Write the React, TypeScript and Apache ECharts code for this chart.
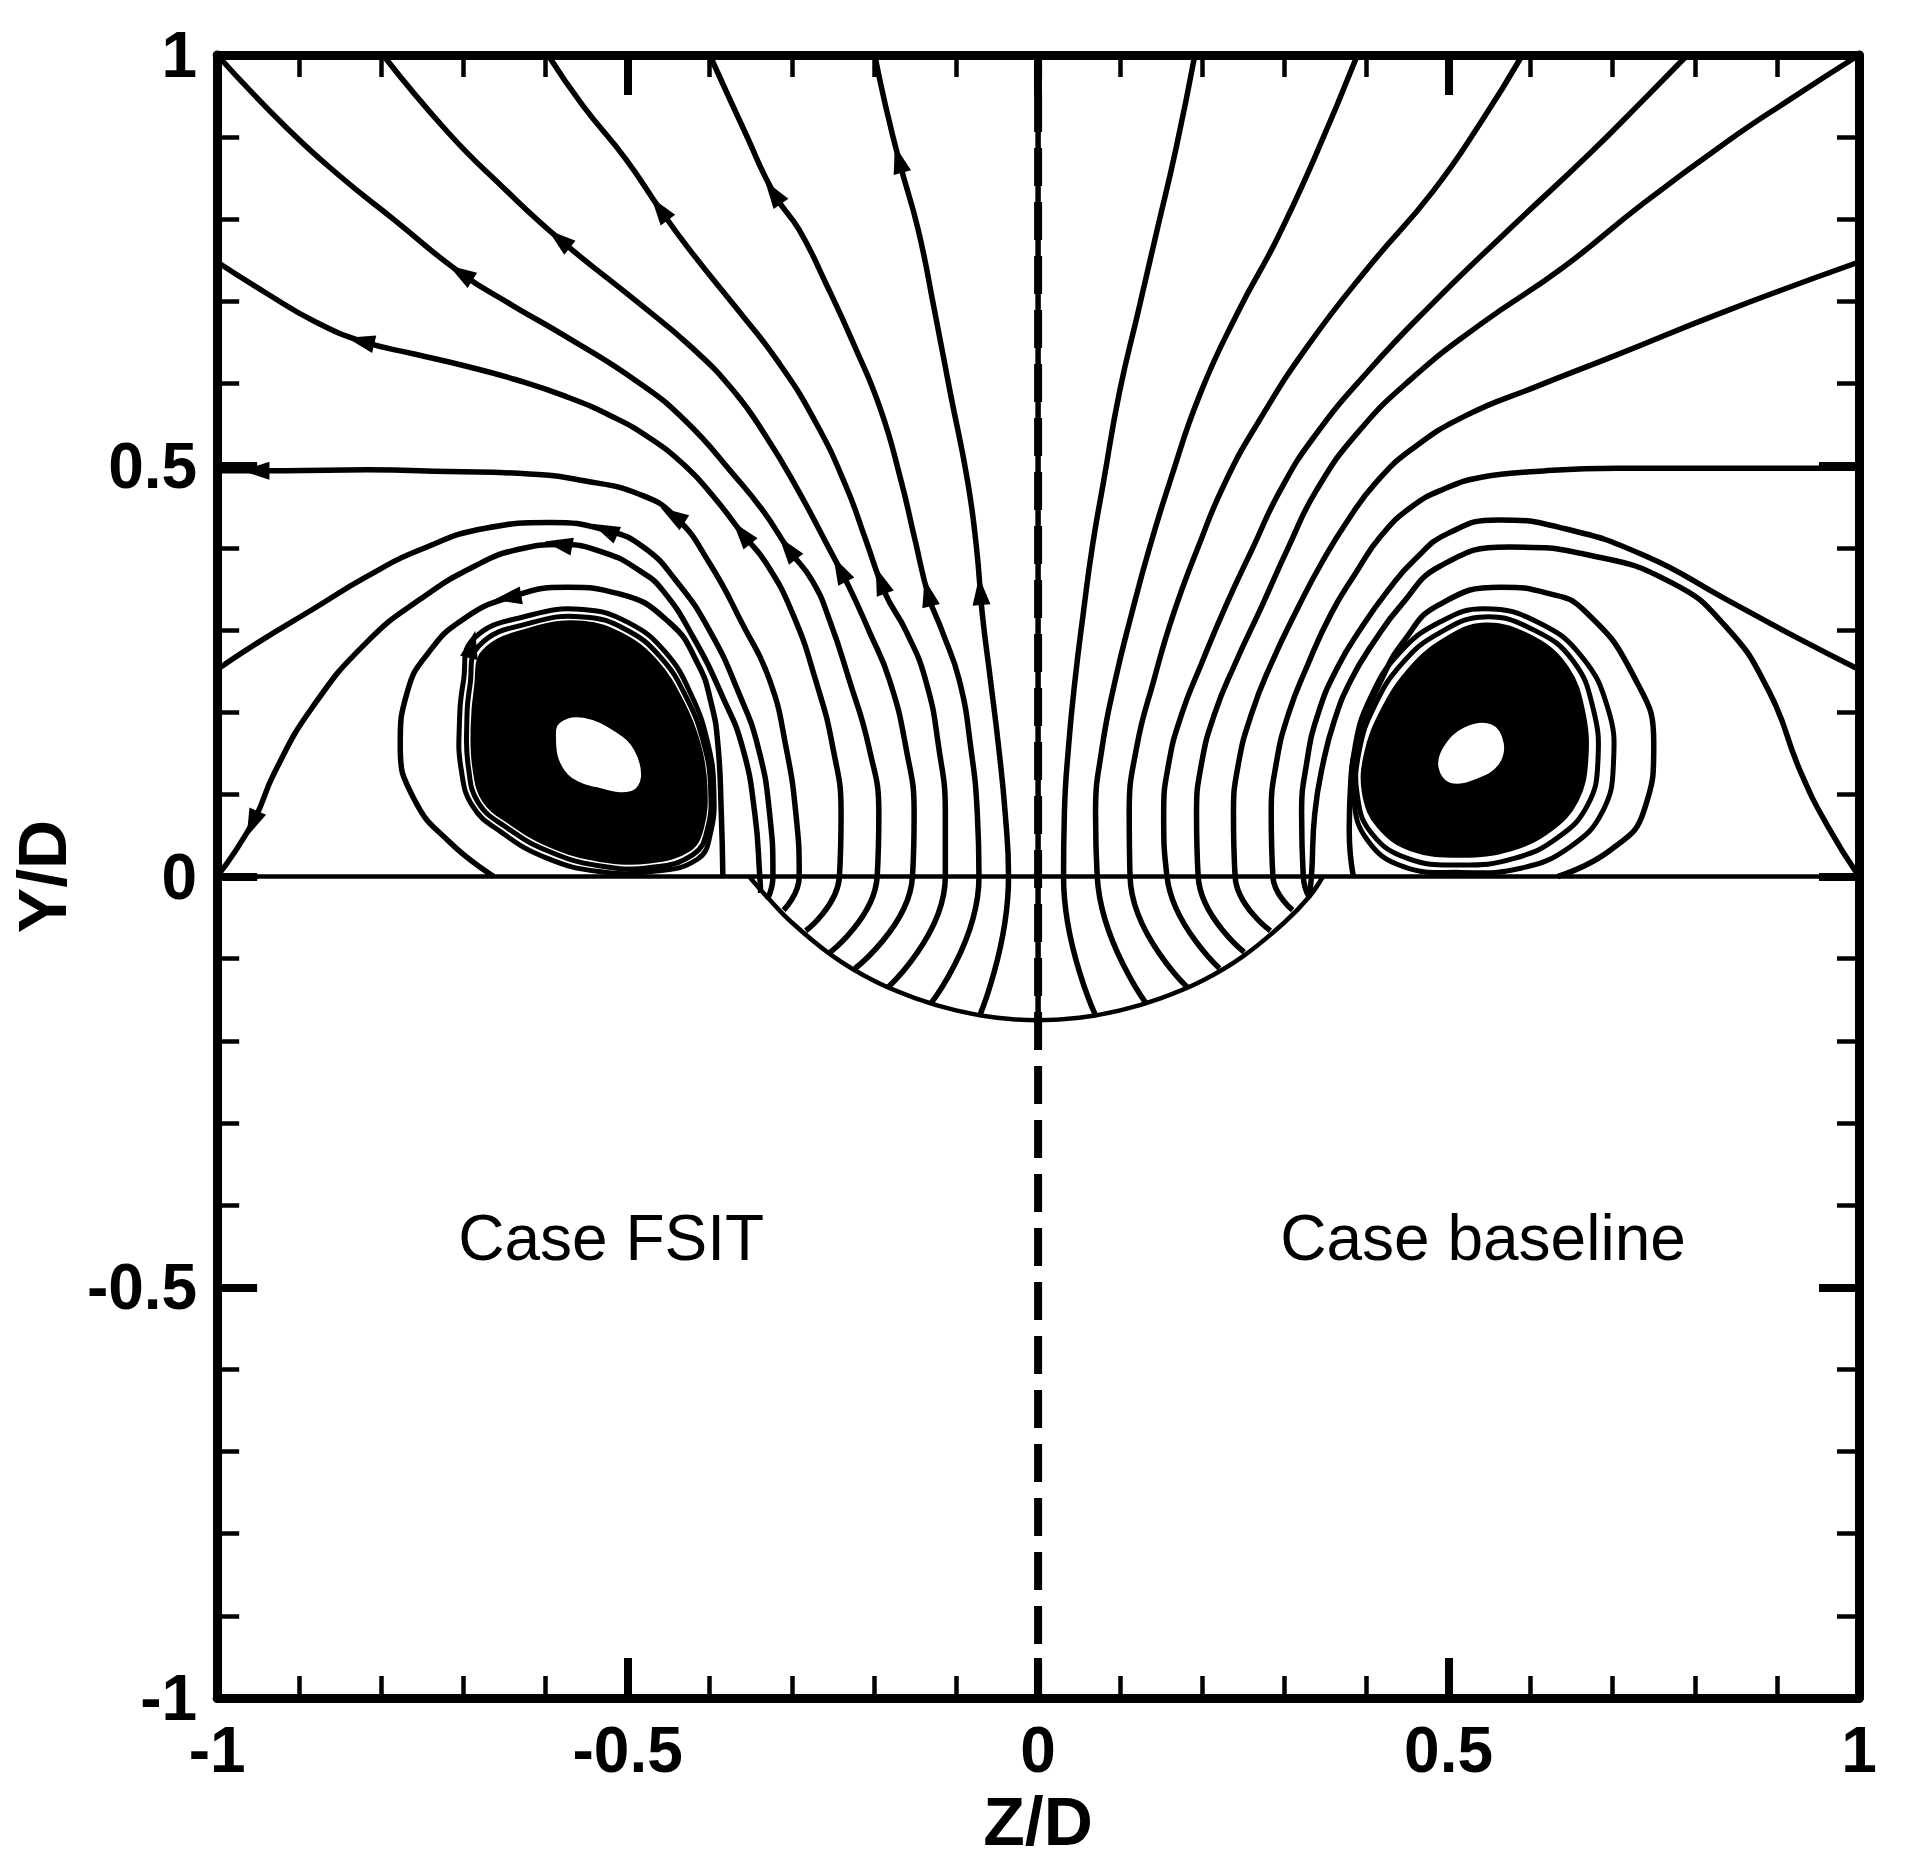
import React, { useEffect, useRef } from "react";
import * as echarts from "echarts";

const FONT = '"Liberation Sans", Arial, Helvetica, sans-serif';

// axis ticks
const axisMin = -1;
const axisMax = 1;
const axisStep = 0.5;

// ---------- Case FSIT (left half) streamlines, [Z/D, Y/D] ----------
const fsitArch = [[-0.384,0],[-0.386,0.08],[-0.39,0.16],[-0.398,0.21],[-0.415,0.26],[-0.45,0.31],[-0.51,0.344],[-0.574,0.352],[-0.643,0.34],[-0.702,0.312],[-0.743,0.272],[-0.768,0.226],[-0.777,0.16],[-0.76,0.094],[-0.716,0.041],[-0.663,0]];
const fsitToCorner0 = [[-0.338,-0.02],[-0.339,0],[-0.345,0.076],[-0.36,0.157],[-0.384,0.218],[-0.42,0.291],[-0.457,0.348],[-0.485,0.372],[-0.528,0.394],[-0.581,0.404],[-0.634,0.398],[-0.686,0.378],[-0.752,0.338],[-0.818,0.285],[-0.884,0.206],[-0.93,0.127],[-0.956,0.067],[-1,0]];
const fsitToEdge025 = [[-0.33,-0.028],[-0.323,0],[-0.327,0.076],[-0.341,0.157],[-0.364,0.222],[-0.4,0.299],[-0.441,0.36],[-0.481,0.401],[-0.525,0.421],[-0.594,0.431],[-0.673,0.424],[-0.752,0.398],[-0.818,0.365],[-0.884,0.325],[-0.95,0.285],[-1,0.252]];
const fsitToEdge050 = [[-0.31,-0.041],[-0.291,0],[-0.295,0.076],[-0.307,0.157],[-0.327,0.239],[-0.36,0.307],[-0.4,0.381],[-0.441,0.437],[-0.485,0.465],[-0.555,0.482],[-0.62,0.49],[-0.719,0.493],[-0.818,0.495],[-0.917,0.494],[-1,0.494]];
const fsitToEdge075 = [[-0.283,-0.066],[-0.242,0],[-0.24,0.076],[-0.25,0.157],[-0.271,0.239],[-0.299,0.32],[-0.331,0.381],[-0.36,0.417],[-0.395,0.462],[-0.43,0.5],[-0.475,0.535],[-0.519,0.56],[-0.577,0.585],[-0.637,0.605],[-0.7,0.622],[-0.76,0.636],[-0.822,0.651],[-0.88,0.675],[-0.94,0.71],[-1,0.748]];
const fsitToCorner1 = [[-0.253,-0.092],[-0.196,0],[-0.194,0.076],[-0.206,0.157],[-0.23,0.239],[-0.254,0.312],[-0.275,0.36],[-0.303,0.397],[-0.335,0.445],[-0.37,0.488],[-0.43,0.555],[-0.489,0.603],[-0.578,0.659],[-0.64,0.695],[-0.704,0.735],[-0.785,0.8],[-0.851,0.853],[-0.917,0.913],[-1,1]];
const fsitToTop080 = [[-0.223,-0.112],[-0.153,0],[-0.151,0.076],[-0.161,0.157],[-0.181,0.239],[-0.206,0.299],[-0.23,0.352],[-0.255,0.4],[-0.295,0.475],[-0.331,0.535],[-0.37,0.59],[-0.423,0.645],[-0.489,0.7],[-0.581,0.774],[-0.653,0.84],[-0.719,0.906],[-0.798,1]];
const fsitToTop060 = [[-0.183,-0.135],[-0.113,0],[-0.113,0.076],[-0.121,0.157],[-0.137,0.239],[-0.161,0.299],[-0.186,0.344],[-0.21,0.41],[-0.234,0.475],[-0.271,0.553],[-0.317,0.627],[-0.37,0.695],[-0.423,0.761],[-0.459,0.81],[-0.502,0.873],[-0.555,0.939],[-0.597,1]];
const fsitToTop040 = [[-0.131,-0.155],[-0.072,0],[-0.074,0.076],[-0.082,0.157],[-0.096,0.239],[-0.117,0.299],[-0.133,0.34],[-0.15,0.41],[-0.167,0.482],[-0.192,0.569],[-0.225,0.649],[-0.258,0.721],[-0.291,0.787],[-0.321,0.83],[-0.357,0.906],[-0.4,1]];
const fsitToTop020 = [[-0.071,-0.169],[-0.036,0],[-0.04,0.076],[-0.048,0.157],[-0.058,0.239],[-0.068,0.32],[-0.075,0.4],[-0.086,0.482],[-0.107,0.589],[-0.126,0.688],[-0.146,0.787],[-0.169,0.87],[-0.186,0.939],[-0.199,1]];
// closed loops hugging the FSIT vortex core
const fsitInnerRing = [[-0.692,0.233],[-0.681,0.281],[-0.617,0.309],[-0.554,0.316],[-0.503,0.301],[-0.46,0.267],[-0.428,0.217],[-0.407,0.161],[-0.399,0.108],[-0.403,0.057],[-0.42,0.027],[-0.472,0.011],[-0.535,0.013],[-0.597,0.031],[-0.648,0.06],[-0.682,0.09],[-0.694,0.133],[-0.696,0.183]];
const fsitRing = [[-0.7,0.238],[-0.688,0.289],[-0.619,0.318],[-0.554,0.325],[-0.499,0.309],[-0.454,0.273],[-0.422,0.22],[-0.402,0.161],[-0.395,0.106],[-0.399,0.053],[-0.415,0.021],[-0.471,0.006],[-0.535,0.006],[-0.6,0.023],[-0.654,0.054],[-0.689,0.086],[-0.703,0.132],[-0.705,0.184]];
const fsitCore = [[-0.686,0.23],[-0.676,0.275],[-0.615,0.303],[-0.554,0.31],[-0.506,0.295],[-0.465,0.263],[-0.433,0.214],[-0.412,0.161],[-0.404,0.109],[-0.408,0.06],[-0.424,0.032],[-0.473,0.017],[-0.534,0.019],[-0.594,0.036],[-0.643,0.064],[-0.676,0.092],[-0.688,0.133],[-0.69,0.182]];
const fsitEye = [[-0.582,0.186],[-0.554,0.192],[-0.514,0.174],[-0.493,0.153],[-0.485,0.121],[-0.497,0.105],[-0.534,0.109],[-0.567,0.121],[-0.582,0.141],[-0.586,0.166]];

// ---------- Case baseline (right half) streamlines ----------
const baseToTop020 = [[0.07,-0.169],[0.031,0],[0.032,0.076],[0.037,0.157],[0.045,0.239],[0.055,0.32],[0.066,0.401],[0.08,0.482],[0.099,0.589],[0.122,0.688],[0.145,0.787],[0.168,0.886],[0.191,1]];
const baseToTop040 = [[0.132,-0.155],[0.072,0],[0.07,0.076],[0.078,0.157],[0.094,0.239],[0.114,0.32],[0.136,0.401],[0.161,0.482],[0.198,0.589],[0.244,0.688],[0.29,0.774],[0.336,0.873],[0.389,1]];
const baseToTop060 = [[0.182,-0.135],[0.112,0],[0.111,0.076],[0.12,0.157],[0.141,0.239],[0.165,0.32],[0.195,0.401],[0.228,0.48],[0.27,0.556],[0.33,0.648],[0.402,0.741],[0.481,0.834],[0.54,0.919],[0.59,1]];
const baseToTop080 = [[0.221,-0.112],[0.157,0],[0.153,0.076],[0.159,0.137],[0.175,0.198],[0.199,0.259],[0.228,0.328],[0.262,0.401],[0.295,0.47],[0.336,0.535],[0.402,0.615],[0.481,0.698],[0.573,0.787],[0.672,0.88],[0.738,0.946],[0.791,1]];
const baseToCorner1 = [[0.251,-0.092],[0.195,0],[0.193,0.076],[0.199,0.137],[0.215,0.198],[0.24,0.259],[0.272,0.328],[0.305,0.401],[0.339,0.47],[0.389,0.54],[0.455,0.606],[0.54,0.673],[0.639,0.741],[0.738,0.82],[0.837,0.893],[0.916,0.946],[1,1]];
const baseToEdge075 = [[0.283,-0.066],[0.24,0],[0.238,0.076],[0.244,0.137],[0.26,0.198],[0.284,0.259],[0.317,0.328],[0.345,0.381],[0.377,0.433],[0.412,0.48],[0.455,0.52],[0.521,0.561],[0.606,0.596],[0.705,0.635],[0.837,0.688],[1,0.748]];
const baseToEdge050 = [[0.31,-0.041],[0.286,0],[0.284,0.076],[0.29,0.137],[0.305,0.198],[0.329,0.259],[0.357,0.32],[0.386,0.368],[0.418,0.415],[0.455,0.45],[0.495,0.472],[0.54,0.486],[0.606,0.493],[0.705,0.497],[0.837,0.497],[1,0.497]];
const baseToEdge025 = [[0.33,-0.025],[0.323,0],[0.321,0.076],[0.327,0.137],[0.341,0.198],[0.365,0.255],[0.394,0.303],[0.426,0.348],[0.458,0.385],[0.5,0.418],[0.56,0.434],[0.639,0.424],[0.738,0.391],[0.837,0.338],[0.922,0.292],[1,0.252]];
const baseToCorner0 = [[0.33,-0.025],[0.333,0],[0.337,0.076],[0.347,0.137],[0.361,0.19],[0.381,0.239],[0.41,0.287],[0.442,0.33],[0.49,0.378],[0.574,0.401],[0.672,0.391],[0.771,0.358],[0.837,0.305],[0.89,0.226],[0.929,0.127],[0.962,0.061],[1,0]];
const baseArch = [[0.384,0],[0.379,0.056],[0.381,0.117],[0.394,0.178],[0.418,0.239],[0.446,0.287],[0.487,0.33],[0.564,0.352],[0.62,0.345],[0.665,0.324],[0.726,0.243],[0.75,0.161],[0.738,0.08],[0.697,0.032],[0.633,0]];
// closed loops around the baseline vortex core
const baseInnerRing = [[0.544,0.316],[0.606,0.299],[0.652,0.262],[0.676,0.205],[0.682,0.141],[0.67,0.088],[0.634,0.048],[0.58,0.022],[0.515,0.014],[0.45,0.022],[0.406,0.053],[0.389,0.098],[0.391,0.152],[0.41,0.208],[0.444,0.26],[0.488,0.296]];
const baseRing = [[0.544,0.326],[0.61,0.309],[0.662,0.268],[0.694,0.205],[0.701,0.14],[0.688,0.08],[0.648,0.036],[0.588,0.01],[0.515,0.005],[0.445,0.012],[0.4,0.046],[0.384,0.098],[0.386,0.158],[0.405,0.218],[0.44,0.272],[0.49,0.31]];
const baseCore = [[0.544,0.308],[0.604,0.291],[0.645,0.255],[0.665,0.202],[0.669,0.141],[0.657,0.092],[0.625,0.056],[0.576,0.032],[0.515,0.024],[0.454,0.032],[0.414,0.06],[0.396,0.1],[0.398,0.149],[0.418,0.202],[0.45,0.251],[0.491,0.287]];
const baseEye = [[0.552,0.184],[0.566,0.162],[0.56,0.137],[0.536,0.121],[0.503,0.115],[0.489,0.133],[0.495,0.157],[0.519,0.18]];

// geometry of the jet hole, the wall and the symmetry plane
const holeArc = [[-0.352,0],[-0.33,-0.025],[-0.3,-0.056],[-0.25,-0.097],[-0.2,-0.127],[-0.15,-0.148],[-0.1,-0.163],[-0.05,-0.172],[0,-0.175],[0.05,-0.172],[0.1,-0.163],[0.15,-0.148],[0.2,-0.127],[0.25,-0.097],[0.3,-0.056],[0.33,-0.025],[0.347,0]];
const centreStreamline = [[0,-0.175],[0,1]];
const wallLine = [[-1,0],[1,0]];
const symmetryLine = [[0,-1],[0,1]];

const openLines = [
  fsitArch, fsitToCorner0, fsitToEdge025, fsitToEdge050, fsitToEdge075, fsitToCorner1,
  fsitToTop080, fsitToTop060, fsitToTop040, fsitToTop020,
  baseToTop020, baseToTop040, baseToTop060, baseToTop080, baseToCorner1, baseToEdge075,
  baseToEdge050, baseToEdge025, baseToCorner0, baseArch, centreStreamline,
];
const closedLines = [fsitInnerRing, fsitRing, baseInnerRing, baseRing];

// lines that carry arrow heads (FSIT side only)
const arrowLines = [fsitArch, fsitToCorner0, fsitToEdge025, fsitToEdge050, fsitToEdge075, fsitToCorner1, fsitToTop080, fsitToTop060, fsitToTop040, fsitToTop020, fsitRing];
// arrow heads: [index in arrowLines, Z/D, Y/D]
const fsitArrows = [
  [0,-0.643,0.34],
  [1,-0.581,0.404],[1,-0.956,0.067],
  [2,-0.525,0.421],
  [3,-0.443,0.437],[3,-0.95,0.494],
  [4,-0.357,0.417],[4,-0.822,0.651],
  [5,-0.303,0.397],[5,-0.7,0.734],
  [6,-0.246,0.368],[6,-0.581,0.774],
  [7,-0.194,0.356],[7,-0.459,0.81],
  [8,-0.135,0.342],[8,-0.321,0.83],
  [9,-0.072,0.344],[9,-0.169,0.87],
  [10,-0.693,0.28],
];

const caseLabels = [
  { name: "Case FSIT", z: -0.52, y: -0.44 },
  { name: "Case baseline", z: 0.542, y: -0.44 },
];

function project(pts: number[][], p: number[]) {
  let best = { d: Infinity, pt: pts[0], dir: [1, 0] };
  const n = pts.length;
  for (let i = 0; i < n - 1; i++) {
    const a = pts[i], b = pts[i + 1];
    const dx = b[0] - a[0], dy = b[1] - a[1];
    const l2 = dx * dx + dy * dy || 1e-9;
    let t = ((p[0] - a[0]) * dx + (p[1] - a[1]) * dy) / l2;
    t = Math.max(0, Math.min(1, t));
    const q = [a[0] + t * dx, a[1] + t * dy];
    const d = (q[0] - p[0]) ** 2 + (q[1] - p[1]) ** 2;
    if (d < best.d) best = { d, pt: q, dir: [dx, dy] };
  }
  return best;
}

function streamSeries(data: number[][], width = 5.5) {
  return {
    type: "line",
    data,
    smooth: 0.5,
    showSymbol: false,
    symbol: "none",
    silent: true,
    z: 3,
    lineStyle: { color: "#000", width },
  };
}

function ringSeries(points: number[][]) {
  return {
    type: "custom",
    silent: true,
    z: 3,
    data: [[points[0][0], points[0][1]]],
    renderItem: (_p: any, api: any) => ({
      type: "polygon",
      shape: { points: points.map((pt) => api.coord(pt)), smooth: 0.45 },
      style: { fill: "none", stroke: "#000", lineWidth: 5 },
    }),
  };
}

function fillSeries(points: number[][], color: string, z: number) {
  return {
    type: "custom",
    silent: true,
    z,
    data: [[points[0][0], points[0][1]]],
    renderItem: (_p: any, api: any) => ({
      type: "polygon",
      shape: { points: points.map((pt) => api.coord(pt)), smooth: 0.4 },
      style: { fill: color, stroke: color, lineWidth: 2 },
    }),
  };
}

export default function App() {
  const ref = useRef<HTMLDivElement>(null);
  useEffect(() => {
    if (!ref.current) return;
    const chart = echarts.init(ref.current, undefined, { renderer: "svg" });
    const axisCommon = {
      type: "value",
      min: axisMin,
      max: axisMax,
      interval: axisStep,
      splitLine: { show: false },
      axisLine: { show: true, onZero: false, lineStyle: { color: "#000", width: 9 } },
      axisTick: { show: true, inside: true, length: 40, lineStyle: { color: "#000", width: 8 } },
      minorTick: { show: true, splitNumber: 5, length: 22, lineStyle: { color: "#000", width: 4.5 } },
    };
    const labelStyle = { color: "#000", fontSize: 64, fontWeight: "bold", fontFamily: FONT };
    const nameStyle = { color: "#000", fontSize: 68, fontWeight: "bold", fontFamily: FONT };

    const series: any[] = [];
    series.push(fillSeries(fsitCore, "#000", 2));
    series.push(fillSeries(fsitEye, "#fff", 2.5));
    series.push(fillSeries(baseCore, "#000", 2));
    series.push(fillSeries(baseEye, "#fff", 2.5));
    openLines.forEach((l) => series.push(streamSeries(l)));
    closedLines.forEach((l) => series.push(ringSeries(l)));
    series.push({
      type: "line", data: holeArc, smooth: 0.4, showSymbol: false, symbol: "none", silent: true, z: 3,
      lineStyle: { color: "#000", width: 4.5 },
    });
    series.push({
      type: "line", data: wallLine, showSymbol: false, symbol: "none", silent: true, z: 3,
      lineStyle: { color: "#000", width: 4.5 },
    });
    series.push({
      type: "line", data: symmetryLine, showSymbol: false, symbol: "none", silent: true, z: 4,
      lineStyle: { color: "#000", width: 8, type: [38, 16] },
    });
    series.push({
      type: "custom",
      silent: true,
      z: 5,
      data: fsitArrows.map((a) => [a[1], a[2], a[0]]),
      renderItem: (params: any, api: any) => {
        const a = fsitArrows[params.dataIndex];
        const line = arrowLines[a[0]];
        const pr = project(line, [a[1], a[2]]);
        const c = api.coord(pr.pt);
        const c2 = api.coord([pr.pt[0] + pr.dir[0] * 0.05, pr.pt[1] + pr.dir[1] * 0.05]);
        let ux = c2[0] - c[0], uy = c2[1] - c[1];
        const len = Math.hypot(ux, uy) || 1;
        ux /= len; uy /= len;
        const nx = -uy, ny = ux;
        const L = 28, W = 9;
        const tip = [c[0] + ux * L * 0.6, c[1] + uy * L * 0.6];
        const bx = c[0] - ux * L * 0.4, by = c[1] - uy * L * 0.4;
        return {
          type: "polygon",
          shape: { points: [tip, [bx + nx * W, by + ny * W], [bx - nx * W, by - ny * W]] },
          style: { fill: "#000" },
        };
      },
    });
    series.push({
      type: "custom",
      silent: true,
      z: 6,
      data: caseLabels.map((c) => [c.z, c.y]),
      renderItem: (params: any, api: any) => {
        const c = caseLabels[params.dataIndex];
        const p = api.coord([c.z, c.y]);
        return {
          type: "text",
          x: p[0],
          y: p[1],
          style: {
            text: c.name, fill: "#000", fontSize: 64, fontFamily: FONT,
            align: "center", verticalAlign: "middle",
          },
        };
      },
    });

    chart.setOption({
      animation: false,
      backgroundColor: "#fff",
      grid: { left: 213, top: 55, right: 52, bottom: 165, containLabel: false },
      xAxis: [
        {
          ...axisCommon,
          position: "bottom",
          name: "Z/D",
          nameLocation: "middle",
          nameGap: 84,
          nameTextStyle: nameStyle,
          axisLabel: { ...labelStyle, margin: 20 },
        },
        { ...axisCommon, position: "top", axisLabel: { show: false } },
      ],
      yAxis: [
        {
          ...axisCommon,
          position: "left",
          name: "Y/D",
          nameLocation: "middle",
          nameRotate: 90,
          nameGap: 121,
          nameTextStyle: nameStyle,
          axisLabel: { ...labelStyle, margin: 20 },
        },
        { ...axisCommon, position: "right", axisLabel: { show: false } },
      ],
      series,
    });
    return () => chart.dispose();
  }, []);
  return (
    <div
      ref={ref}
      style={{ position: "absolute", left: 0, top: 0, width: 1911, height: 1863, background: "#fff" }}
    />
  );
}
